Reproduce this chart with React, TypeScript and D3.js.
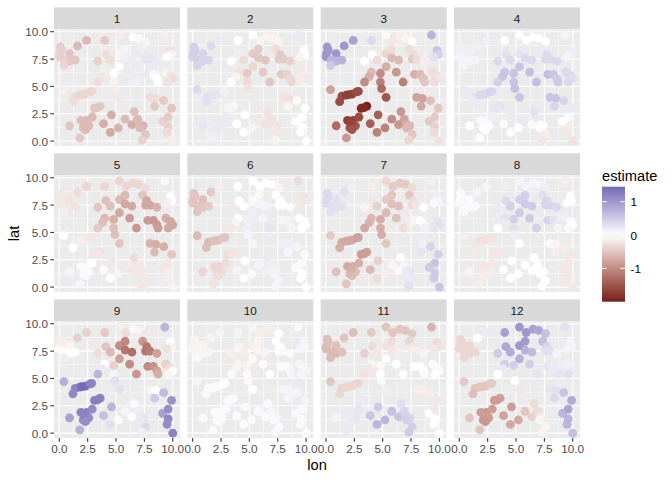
import React from "react";
import * as d3 from "d3";

// ---------- data ----------
const months = ["1", "2", "3", "4", "5", "6", "7", "8", "9", "10", "11", "12"];

const lon = [
  0.1, 0.05, 0.0, 0.9, 1.6, 0.45, 0.9, 1.4, 0.4, 2.4,
  4.0, 5.3, 5.9, 6.5, 7.0, 7.6, 3.4, 4.1, 4.5, 5.3,
  5.8, 5.8, 6.4, 7.35, 7.7, 7.6, 8.0, 8.6, 9.3, 9.8,
  9.9, 9.5, 5.3, 4.8, 4.0, 3.8, 3.4, 4.8, 4.9, 6.2,
  6.8, 7.8, 8.3, 8.6, 8.7, 9.4, 9.8, 10.0, 9.6, 0.4,
  1.4, 1.2, 1.8, 2.3, 2.7, 3.1, 3.6, 5.3, 8.0, 8.5,
  8.4, 9.2, 9.9, 4.6, 6.6, 1.9, 2.4, 2.9, 3.9, 5.8,
  6.4, 6.9, 7.1, 7.4, 0.9, 2.1, 2.6, 4.5, 5.2, 7.1,
  7.6, 7.3, 1.8, 9.1, 9.6, 9.6, 9.5, 10.0, 2.0, 2.85,
  2.2, 2.3, 3.35, 0.2,
];
const lat = [
  8.6, 8.0, 7.7, 8.0, 8.7, 7.4, 7.3, 7.4, 6.9, 9.2,
  9.2, 9.7, 9.2, 9.5, 9.4, 9.1, 7.3, 7.9, 7.4, 8.0,
  8.4, 7.6, 7.4, 8.4, 7.9, 7.5, 7.5, 7.3, 9.7, 8.3,
  7.9, 7.7, 6.8, 6.2, 6.3, 5.9, 5.4, 5.4, 4.8, 6.3,
  5.4, 6.1, 6.1, 5.7, 5.4, 6.3, 6.0, 5.7, 5.4, 4.7,
  4.1, 3.6, 4.2, 4.3, 4.5, 3.0, 3.2, 4.0, 4.0, 3.9,
  3.2, 3.7, 3.0, 2.4, 2.7, 1.9, 1.9, 2.2, 1.6, 2.0,
  1.5, 2.0, 1.5, 1.4, 1.4, 1.2, 1.4, 0.8, 1.2, 1.2,
  0.6, 0.1, 0.3, 1.8, 2.2, 1.3, 0.8, 0.0, 4.25, 4.55,
  1.6, 1.05, 3.05, 8.3,
];

const est1 = [
  -0.45, -0.4, -0.4, -0.5, -0.6, -0.4, -0.45, -0.5, -0.35, -0.6,
  -0.45, -0.15, -0.2, 0.0, 0.05, 0.1, -0.4, -0.3, -0.3, -0.1,
  0.1, 0.15, 0.2, 0.15, 0.2, 0.25, 0.25, 0.2, -0.15, -0.25,
  -0.1, 0.0, 0.0, 0.0, -0.15, -0.2, -0.3, -0.1, -0.15, 0.2,
  0.15, 0.2, 0.05, 0.0, 0.0, -0.1, -0.2, -0.3, -0.25, -0.15,
  -0.3, -0.3, -0.35, -0.35, -0.35, -0.5, -0.45, -0.2, -0.3, -0.3,
  -0.45, -0.45, -0.5, -0.7, -0.55, -0.55, -0.6, -0.6, -0.7, -0.6,
  -0.7, -0.6, -0.6, -0.65, -0.5, -0.55, -0.6, -0.75, -0.65, -0.6,
  -0.5, -0.4, -0.45, -0.4, -0.45, -0.4, -0.3, -0.15, -0.35, -0.35,
  -0.6, -0.6, -0.5, -0.4,
];
const est2 = [
  0.45, 0.45, 0.45, 0.4, 0.35, 0.45, 0.4, 0.4, 0.4, 0.2,
  0.0, 0.0, -0.1, -0.1, -0.1, -0.1, 0.0, -0.15, -0.3, -0.45,
  -0.45, -0.5, -0.5, -0.3, -0.45, -0.45, -0.45, -0.4, 0.2, 0.0,
  0.0, -0.1, -0.35, -0.45, -0.25, -0.1, 0.0, -0.3, -0.25, -0.45,
  -0.5, -0.45, -0.4, -0.35, -0.35, -0.2, -0.15, -0.2, -0.15, 0.35,
  0.3, 0.3, 0.25, 0.25, 0.15, 0.1, 0.05, -0.2, -0.25, -0.25,
  -0.1, -0.05, 0.0, 0.0, -0.25, 0.2, 0.2, 0.2, 0.0, -0.2,
  -0.25, -0.25, -0.25, -0.25, 0.25, 0.2, 0.2, 0.0, -0.1, -0.2,
  -0.2, -0.1, 0.15, 0.0, 0.0, 0.0, 0.0, 0.0, 0.25, 0.15,
  0.2, 0.2, 0.1, 0.45,
];
const est3 = [
  1.0, 1.05, 1.0, 1.0, 1.0, 0.7, 0.7, 0.75, 0.5, 0.9,
  0.35, 0.05, -0.2, -0.15, -0.1, 0.0, 0.0, 0.0, -0.3, -0.35,
  -0.3, -0.6, -0.6, -0.3, -0.3, -0.45, -0.3, -0.15, 0.7, 0.55,
  0.45, 0.3, -0.7, -1.0, -0.6, -0.7, -1.0, -1.1, -1.3, -0.9,
  -1.1, -0.7, -0.6, -0.55, -0.5, -0.3, -0.25, -0.2, -0.3, -0.8,
  -1.6, -1.6, -1.7, -1.7, -1.6, -1.9, -2.0, -1.5, -0.8, -0.8,
  -0.75, -0.55, -0.5, -1.4, -0.9, -1.7, -1.7, -1.6, -1.4, -1.0,
  -0.9, -0.8, -0.7, -0.6, -1.3, -1.5, -1.5, -1.1, -1.1, -0.6,
  -0.5, -0.35, -0.9, -0.45, -0.45, -0.4, -0.3, -0.25, -1.7, -1.6,
  -1.65, -1.5, -1.9, 1.0,
];
const est4 = [
  0.15, 0.15, 0.1, 0.15, 0.15, 0.1, 0.1, 0.1, 0.1, 0.15,
  0.0, 0.0, 0.0, 0.0, 0.0, 0.0, 0.35, 0.3, 0.35, 0.25,
  0.2, 0.35, 0.35, 0.2, 0.35, 0.35, 0.35, 0.35, -0.1, 0.15,
  0.15, 0.1, 0.55, 0.55, 0.55, 0.55, 0.45, 0.55, 0.6, 0.6,
  0.6, 0.6, 0.55, 0.5, 0.5, 0.35, 0.35, 0.3, 0.35, 0.2,
  0.25, 0.2, 0.35, 0.35, 0.4, 0.25, 0.3, 0.55, 0.55, 0.55,
  0.4, 0.4, 0.2, 0.2, 0.3, 0.05, 0.05, 0.15, 0.05, 0.2,
  0.05, 0.2, 0.05, 0.0, 0.0, 0.0, 0.0, 0.0, 0.0, 0.0,
  -0.15, -0.2, 0.0, 0.0, 0.05, -0.15, -0.2, -0.25, 0.35, 0.4,
  0.05, 0.0, 0.25, 0.15,
];
const est5 = [
  -0.2, -0.2, -0.2, -0.25, -0.3, -0.2, -0.2, -0.25, -0.15, -0.35,
  -0.35, -0.35, -0.35, -0.35, -0.35, -0.3, -0.5, -0.55, -0.55, -0.6,
  -0.6, -0.75, -0.75, -0.5, -0.75, -0.75, -0.75, -0.65, 0.05, 0.0,
  0.0, -0.15, -0.75, -0.7, -0.6, -0.55, -0.45, -0.55, -0.55, -0.85,
  -0.9, -0.85, -0.9, -0.9, -0.85, -0.7, -0.75, -0.75, -0.75, 0.0,
  -0.15, 0.0, -0.15, -0.15, -0.2, -0.2, -0.25, -0.5, -0.65, -0.7,
  -0.6, -0.7, -0.5, -0.2, -0.3, 0.05, 0.05, 0.0, 0.05, -0.2,
  -0.2, -0.2, -0.2, -0.2, 0.1, 0.05, 0.05, 0.0, -0.1, -0.2,
  -0.2, -0.2, 0.1, -0.2, -0.2, -0.15, -0.15, -0.1, -0.15, -0.2,
  0.05, 0.05, -0.2, -0.2,
];
const est6 = [
  -0.5, -0.5, -0.5, -0.55, -0.45, -0.5, -0.5, -0.45, -0.5, -0.15,
  0.0, 0.0, 0.0, 0.0, 0.0, -0.1, -0.2, 0.0, 0.0, 0.05,
  0.05, 0.1, 0.1, 0.0, 0.0, 0.0, 0.0, -0.05, -0.3, -0.25,
  -0.2, -0.2, 0.15, 0.15, 0.0, -0.1, -0.2, 0.15, 0.1, 0.1,
  0.25, 0.1, 0.1, 0.15, 0.1, 0.0, 0.0, 0.0, 0.0, -0.6,
  -0.6, -0.55, -0.55, -0.5, -0.5, -0.3, -0.2, 0.1, 0.15, 0.15,
  0.1, 0.1, 0.05, 0.0, 0.2, -0.35, -0.35, -0.3, -0.1, 0.1,
  0.15, 0.15, 0.15, 0.15, -0.35, -0.3, -0.3, 0.0, 0.05, 0.1,
  0.1, 0.1, -0.25, 0.05, 0.05, 0.0, 0.0, 0.0, -0.55, -0.5,
  -0.35, -0.3, -0.25, -0.5,
];
const est7 = [
  0.35, 0.35, 0.35, 0.3, 0.3, 0.3, 0.3, 0.3, 0.3, 0.15,
  -0.15, -0.35, -0.45, -0.45, -0.45, -0.3, -0.1, -0.2, -0.4, -0.45,
  -0.5, -0.55, -0.55, -0.5, -0.3, -0.3, -0.2, 0.0, -0.15, 0.15,
  0.1, 0.05, -0.6, -0.7, -0.6, -0.65, -0.75, -0.7, -0.7, -0.55,
  -0.3, -0.1, 0.0, 0.05, 0.15, 0.2, 0.25, 0.3, 0.25, -0.45,
  -0.75, -0.7, -0.75, -0.75, -0.8, -0.85, -0.8, -0.5, 0.2, 0.15,
  0.25, 0.4, 0.45, -0.4, 0.0, -0.75, -0.7, -0.7, -0.6, -0.1,
  0.05, 0.1, 0.2, 0.25, -0.55, -0.6, -0.6, -0.3, -0.15, 0.2,
  0.2, 0.3, -0.5, 0.5, 0.55, 0.5, 0.5, 0.55, -0.75, -0.8,
  -0.7, -0.6, -0.85, 0.35,
];
const est8 = [
  0.05, 0.05, 0.05, 0.05, 0.1, 0.05, 0.05, 0.05, 0.05, 0.1,
  0.15, 0.1, 0.1, 0.1, 0.1, 0.15, 0.2, 0.35, 0.45, 0.45,
  0.45, 0.5, 0.5, 0.3, 0.4, 0.4, 0.4, 0.35, -0.15, 0.0,
  0.0, 0.0, 0.5, 0.45, 0.3, 0.2, 0.0, 0.3, 0.15, 0.5,
  0.45, 0.4, 0.3, 0.2, 0.1, 0.15, 0.05, 0.0, 0.05, -0.15,
  -0.2, -0.2, -0.25, -0.25, -0.25, -0.2, -0.2, 0.0, -0.05, -0.1,
  -0.15, -0.15, -0.2, 0.0, 0.0, -0.2, -0.2, -0.2, 0.0, 0.0,
  0.0, 0.0, 0.0, 0.0, -0.1, -0.15, -0.15, 0.0, 0.0, 0.0,
  0.0, 0.0, -0.15, -0.2, -0.2, -0.2, -0.2, -0.2, -0.25, -0.25,
  -0.2, -0.15, -0.2, 0.05,
];
const est9 = [
  -0.15, -0.1, -0.05, -0.1, -0.4, 0.0, 0.0, 0.0, 0.15, -0.4,
  -0.45, -0.15, -0.3, -0.05, -0.1, -0.2, -0.3, -0.5, -0.6, -1.0,
  -1.05, -1.2, -1.25, -0.9, -1.2, -1.2, -1.15, -0.8, 0.7, 0.0,
  -0.1, -0.25, -0.8, -0.4, 0.0, 0.2, 0.7, 0.1, 0.3, -1.0,
  -0.9, -1.0, -0.95, -0.8, -0.7, -0.4, -0.3, 0.0, -0.1, 0.75,
  1.2, 1.15, 1.25, 1.4, 1.2, 1.25, 1.2, 0.3, -0.1, 0.0,
  0.5, 0.65, 1.05, 0.7, 0.05, 1.2, 1.2, 1.1, 0.6, 0.1,
  0.0, 0.15, 0.2, 0.25, 0.9, 1.1, 1.1, 0.3, 0.05, 0.2,
  0.35, 0.15, 0.75, 0.9, 1.1, 1.15, 1.1, 1.2, 1.45, 1.2,
  1.2, 1.1, 1.25, -0.15,
];
const est10 = [
  -0.1, -0.1, -0.1, -0.1, -0.1, -0.1, -0.1, -0.1, -0.05, -0.1,
  -0.1, -0.1, -0.15, -0.15, -0.15, 0.0, -0.15, -0.1, -0.15, -0.15,
  -0.1, -0.1, -0.1, 0.0, 0.0, 0.0, 0.05, 0.05, 0.05, 0.1,
  0.1, 0.1, -0.05, -0.1, -0.1, -0.1, -0.05, -0.05, -0.05, -0.05,
  0.0, 0.05, 0.05, 0.1, 0.1, 0.1, 0.1, 0.1, 0.1, 0.1,
  0.05, 0.05, 0.05, 0.05, 0.0, 0.05, 0.05, 0.0, 0.1, 0.1,
  0.1, 0.1, 0.1, 0.05, 0.05, 0.05, 0.05, 0.05, 0.05, 0.05,
  0.05, 0.1, 0.1, 0.1, 0.05, 0.05, 0.05, 0.05, 0.05, 0.05,
  0.05, 0.05, 0.05, 0.05, 0.05, 0.05, 0.05, 0.0, 0.05, 0.0,
  0.05, 0.05, 0.05, -0.1,
];
const est11 = [
  -0.55, -0.55, -0.6, -0.55, -0.5, -0.6, -0.6, -0.55, -0.6, -0.55,
  -0.45, -0.5, -0.5, -0.5, -0.5, -0.45, -0.4, -0.3, -0.2, -0.25,
  -0.3, -0.2, -0.15, -0.35, -0.2, -0.15, -0.15, -0.1, -0.65, -0.3,
  -0.25, -0.2, -0.05, -0.05, -0.1, -0.2, -0.25, 0.0, 0.05, 0.0,
  0.0, 0.0, 0.0, 0.0, 0.05, 0.05, 0.05, 0.05, 0.0, -0.5,
  -0.4, -0.35, -0.35, -0.35, -0.35, 0.2, 0.15, 0.15, -0.15, -0.15,
  -0.2, -0.15, -0.2, 0.5, 0.3, 0.2, 0.2, 0.25, 0.55, 0.6,
  0.55, 0.4, 0.45, 0.4, 0.1, 0.2, 0.25, 0.7, 0.7, 0.45,
  0.45, 0.5, 0.2, 0.0, -0.2, 0.0, 0.0, 0.0, -0.35, -0.35,
  0.2, 0.2, 0.2, -0.55,
];
const est12 = [
  -0.35, -0.35, -0.35, -0.35, 0.0, -0.35, -0.35, -0.35, -0.35, 0.2,
  0.9, 1.0, 1.0, 0.9, 0.85, 0.6, 0.5, 0.85, 0.8, 1.0,
  0.95, 0.75, 0.65, 0.6, 0.4, 0.3, 0.3, 0.1, 0.3, 0.1,
  0.1, 0.1, 0.75, 0.45, 0.45, 0.2, 0.0, 0.2, 0.0, 0.45,
  0.25, 0.25, 0.2, 0.2, 0.25, 0.15, 0.15, 0.2, 0.3, -0.45,
  -0.5, -0.55, -0.5, -0.5, -0.45, -0.9, -0.8, -0.2, 0.25, 0.3,
  0.35, 0.55, 0.8, -0.85, -0.3, -0.85, -0.9, -0.85, -0.8, -0.5,
  -0.4, -0.3, -0.2, -0.15, -0.5, -0.9, -0.85, -0.75, -0.75, -0.1,
  -0.1, -0.1, -0.5, 0.7, 0.85, 0.7, 0.7, 0.6, -0.5, -0.45,
  -0.85, -0.9, -0.85, -0.35,
];
const estimates = [est1, est2, est3, est4, est5, est6, est7, est8, est9, est10, est11, est12];

const xTicks = [0, 2.5, 5, 7.5, 10];
const yTicks = [0, 2.5, 5, 7.5, 10];
const legendTicks = [-1, 0, 1];

// ---------- layout ----------
const W = 672;
const H = 480;
const PANEL_X0 = 54;
const PANEL_W = 126;
const PANEL_H = 116.7;
const STRIP_H = 22;
const GAP = 7.33;
const TOP = 7.3;
const NCOL = 4;

const LOW = "#781c1c";
const MID = "#ffffff";
const HIGH = "#3a3a98";

export default function App() {
  const all = estimates.flat();
  const vmin = d3.min(all) as number;
  const vmax = d3.max(all) as number;
  const m = Math.max(Math.abs(vmin), Math.abs(vmax));
  const color = d3
    .scaleLinear<string>()
    .domain([-m, 0, m])
    .range([LOW, MID, HIGH])
    .interpolate(d3.interpolateLab);

  const xs = d3.scaleLinear().domain([-0.47, 10.64]).range([0, PANEL_W]);
  const ys = d3.scaleLinear().domain([-0.45, 10.22]).range([PANEL_H, 0]);
  const fmt = d3.format(".1f");
  const xMinor = [1.25, 3.75, 6.25, 8.75];
  const yMinor = [1.25, 3.75, 6.25, 8.75];

  const font = "'Liberation Sans', Arial, Helvetica, sans-serif";

  // legend
  const barX = 602;
  const barW = 23;
  const barTop = 186.7;
  const barH = 115;
  const ly = d3.scaleLinear().domain([vmin, vmax]).range([barTop + barH, barTop]);
  const stops = d3.range(0, 1.0001, 0.05).map((t) => {
    const v = vmax - t * (vmax - vmin);
    return { off: t, c: color(v) };
  });

  const panels = months.map((mo, i) => {
    const r = Math.floor(i / NCOL);
    const c = i % NCOL;
    const px = PANEL_X0 + c * (PANEL_W + GAP);
    const stripY = TOP + r * (STRIP_H + PANEL_H + GAP);
    const py = stripY + STRIP_H;
    const vals = estimates[i];
    return (
      <g key={mo}>
        <rect x={px} y={stripY} width={PANEL_W} height={STRIP_H} fill="#D9D9D9" />
        <text
          x={px + PANEL_W / 2}
          y={stripY + STRIP_H / 2}
          textAnchor="middle"
          dominantBaseline="central"
          fontSize={11.73}
          fill="#1A1A1A"
          fontFamily={font}
        >
          {mo}
        </text>
        <g transform={`translate(${px},${py})`}>
          <rect x={0} y={0} width={PANEL_W} height={PANEL_H} fill="#EBEBEB" />
          {xMinor.map((t) => (
            <line key={"xm" + t} x1={xs(t)} x2={xs(t)} y1={0} y2={PANEL_H} stroke="#fff" strokeWidth={0.53} />
          ))}
          {yMinor.map((t) => (
            <line key={"ym" + t} y1={ys(t)} y2={ys(t)} x1={0} x2={PANEL_W} stroke="#fff" strokeWidth={0.53} />
          ))}
          {xTicks.map((t) => (
            <line key={"xM" + t} x1={xs(t)} x2={xs(t)} y1={0} y2={PANEL_H} stroke="#fff" strokeWidth={1.07} />
          ))}
          {yTicks.map((t) => (
            <line key={"yM" + t} y1={ys(t)} y2={ys(t)} x1={0} x2={PANEL_W} stroke="#fff" strokeWidth={1.07} />
          ))}
          {lon.map((lo, k) => (
            <circle key={k} cx={xs(lo)} cy={ys(lat[k])} r={4.4} fill={color(vals[k])} />
          ))}
          {c === 0 &&
            yTicks.map((t) => (
              <g key={"yt" + t}>
                <line x1={-3.67} x2={0} y1={ys(t)} y2={ys(t)} stroke="#333333" strokeWidth={1.07} />
                <text
                  x={-5.9}
                  y={ys(t)}
                  textAnchor="end"
                  dominantBaseline="central"
                  fontSize={11.73}
                  fill="#4D4D4D"
                  fontFamily={font}
                >
                  {fmt(t)}
                </text>
              </g>
            ))}
          {r === 2 &&
            xTicks.map((t) => (
              <g key={"xt" + t}>
                <line x1={xs(t)} x2={xs(t)} y1={PANEL_H} y2={PANEL_H + 3.67} stroke="#333333" strokeWidth={1.07} />
                <text
                  x={xs(t)}
                  y={PANEL_H + 5.9}
                  textAnchor="middle"
                  dominantBaseline="hanging"
                  fontSize={11.73}
                  fill="#4D4D4D"
                  fontFamily={font}
                >
                  {fmt(t)}
                </text>
              </g>
            ))}
        </g>
      </g>
    );
  });

  return (
    <svg
      width={W}
      height={H}
      style={{ position: "absolute", left: 0, top: 0, display: "block" }}
    >
      <rect x={0} y={0} width={W} height={H} fill="#ffffff" />
      {panels}
      <text x={317} y={465} textAnchor="middle" dominantBaseline="central" fontSize={14.67} fill="#000" fontFamily={font}>
        lon
      </text>
      <text
        transform={`translate(14,233.5) rotate(-90)`}
        textAnchor="middle"
        dominantBaseline="central"
        fontSize={14.67}
        fill="#000"
        fontFamily={font}
      >
        lat
      </text>
      <text x={barX} y={176} dominantBaseline="central" fontSize={14.67} fill="#000" fontFamily={font}>
        estimate
      </text>
      <defs>
        <linearGradient id="legGrad" x1="0" y1="0" x2="0" y2="1">
          {stops.map((s, k) => (
            <stop key={k} offset={s.off} stopColor={s.c} />
          ))}
        </linearGradient>
      </defs>
      <rect x={barX} y={barTop} width={barW} height={barH} fill="url(#legGrad)" />
      {legendTicks.map((t) => (
        <g key={"lt" + t}>
          <line x1={barX} x2={barX + barW / 5} y1={ly(t)} y2={ly(t)} stroke="#fff" strokeWidth={1} />
          <line x1={barX + barW - barW / 5} x2={barX + barW} y1={ly(t)} y2={ly(t)} stroke="#fff" strokeWidth={1} />
          <text
            x={barX + barW + 5.5}
            y={ly(t)}
            dominantBaseline="central"
            fontSize={11.73}
            fill="#000"
            fontFamily={font}
          >
            {t}
          </text>
        </g>
      ))}
    </svg>
  );
}
